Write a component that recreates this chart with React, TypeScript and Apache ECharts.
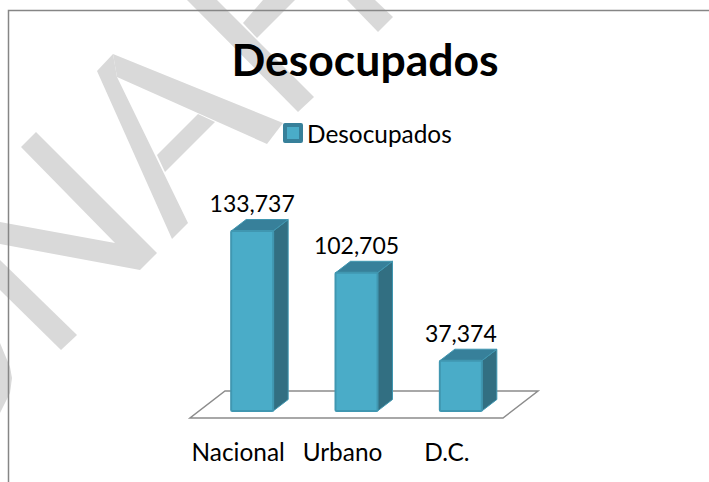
import React, { useEffect, useRef } from "react";
import * as echarts from "echarts";

const categories = ["Nacional", "Urbano", "D.C."];
const seriesName = "Desocupados";
const values = [133737, 102705, 37374];
const valueMax = 140000;

const FONT = "Lato";
const BLUE = "#4aacc8";
const BORDER = "#4097b1";
const TOP = "#37809a";
const SIDE = "#326f82";
const MARK = "#d9d9d9";

const markShapes: number[][][] = [
  [[21, 147], [36, 132], [157, 253], [140, 270], [0, 244], [0, 222], [115, 243]],
  [[0, 260], [77, 335], [61, 350], [0, 290]],
  [[0, 343], [5, 355], [10, 367], [12, 378], [10, 393], [5, 403], [0, 413]],
  [[97, 71], [172, 239], [188, 223], [117, 77], [113, 54]],
  [[113, 54], [283, 123], [267, 144], [117, 77]],
  [[198, 114], [215, 122], [165, 172], [157, 155]],
  [[187, 0], [217, 0], [314, 97], [298, 112]],
  [[263, 0], [295, 0], [257, 38], [243, 23]],
  [[347, 0], [375, 0], [393, 17], [378, 32]],
];

function renderBar(params: any, api: any) {
  const [cx, y0] = api.coord([api.value(0), 0]);
  const [, y1] = api.coord([api.value(0), api.value(1)]);
  const offset = 14;
  const half = 21;
  const dx = 15;
  const dy = -11.5;
  const l = cx + offset - half;
  const r = cx + offset + half;
  return {
    type: "group",
    children: [
      {
        type: "polygon",
        shape: { points: [[r, y1], [r + dx, y1 + dy], [r + dx, y0 + dy], [r, y0]] },
        style: { fill: SIDE, stroke: BORDER, lineWidth: 1 },
      },
      {
        type: "polygon",
        shape: { points: [[l, y1], [l + dx, y1 + dy], [r + dx, y1 + dy], [r, y1]] },
        style: { fill: TOP, stroke: BORDER, lineWidth: 1 },
      },
      {
        type: "rect",
        shape: { x: l, y: y1, width: r - l, height: y0 - y1, r: 1 },
        style: { fill: BLUE, stroke: BORDER, lineWidth: 2 },
      },
      {
        type: "text",
        x: cx + offset,
        y: y1 - 28,
        style: {
          text: api.value(1).toLocaleString("en-US"),
          fontFamily: FONT,
          fontSize: 23,
          fill: "#000",
          align: "center",
          verticalAlign: "middle",
        },
      },
    ],
  };
}

function renderFloor(params: any) {
  const g = params.coordSys;
  const bottom = g.y + g.height + 7;
  const left = g.x + 4;
  const right = g.x + g.width + 4;
  return {
    type: "polygon",
    shape: { points: [[left, bottom], [right, bottom], [right + 35, bottom - 27], [left + 35, bottom - 27]] },
    style: { fill: "#fff", stroke: "#8c8c8c", lineWidth: 1.5 },
  };
}

export default function App() {
  const ref = useRef<HTMLDivElement>(null);
  useEffect(() => {
    const chart = echarts.init(ref.current!, undefined, { renderer: "svg" });
    chart.setOption({
      animation: false,
      backgroundColor: "#fff",
      title: {
        text: seriesName,
        left: 360,
        top: 31,
        textAlign: "center",
        textStyle: { fontFamily: FONT, fontSize: 44.5, fontWeight: "bold", color: "#000" },
      },
      legend: {
        left: 278,
        top: 116,
        itemWidth: 16,
        itemHeight: 16,
        itemGap: 4,
        icon: "rect",
        textStyle: { fontFamily: FONT, fontSize: 24.4, color: "#000", padding: [0, 0, 0, 1] },
        data: [{ name: seriesName, itemStyle: { color: BLUE, borderColor: TOP, borderWidth: 4, borderJoin: "round" } }],
      },
      grid: { left: 186, width: 313, top: 222.6, height: 188.4, containLabel: false },
      xAxis: {
        type: "category",
        data: categories,
        axisLine: { show: false },
        axisTick: { show: false },
        splitLine: { show: false },
        axisLabel: { fontFamily: FONT, fontSize: 24.4, color: "#000", margin: 28, interval: 0 },
      },
      yAxis: { type: "value", min: 0, max: valueMax, show: false },
      graphic: [
        ...markShapes.map((points) => ({
          type: "polygon",
          z: -1,
          silent: true,
          shape: { points },
          style: { fill: MARK },
        })),
        {
          type: "polyline",
          z: 1,
          silent: true,
          shape: { points: [[8.5, 482], [8.5, 10.5], [709, 10.5]] },
          style: { stroke: "#868686", lineWidth: 1.5, fill: "none" },
        },
      ],
      series: [
        {
          name: "floor",
          type: "custom",
          coordinateSystem: "cartesian2d",
          silent: true,
          z: 1,
          data: [[0, 0]],
          renderItem: renderFloor,
        },
        {
          name: seriesName,
          type: "custom",
          coordinateSystem: "cartesian2d",
          z: 3,
          itemStyle: { color: BLUE },
          encode: { x: 0, y: 1 },
          data: values.map((v, i) => [i, v]),
          renderItem: renderBar,
        },
      ],
    });
    return () => chart.dispose();
  }, []);
  return <div ref={ref} style={{ position: "fixed", left: 0, top: 0, width: 709, height: 482 }} />;
}
